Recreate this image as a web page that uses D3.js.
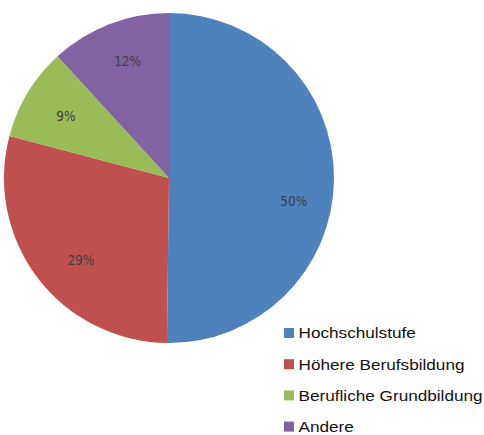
<!DOCTYPE html>
<html><head><meta charset="utf-8">
<script src="https://cdn.jsdelivr.net/npm/d3@7"></script>
<style>body{margin:0;background:#fff}</style></head>
<body><svg id="c" width="484" height="435"></svg>
<script>
const categories = ["Hochschulstufe","Höhere Berufsbildung","Berufliche Grundbildung","Andere"];
const values = [50.2, 28.9, 9.1, 11.8];
const labels = ["50%","29%","9%","12%"];
const colors = ["#4F81BD","#C0504D","#9BBB59","#8064A2"];

const svg = d3.select("#c");
const cx = 169, cy = 178, r = 165;
const pie = d3.pie().sort(null).value(d=>d)(values);
const arc = d3.arc().innerRadius(0).outerRadius(r);
// label placement: radius factor and angular nudge (radians) per slice
const labelRad = [0.77, 0.73, 0.73, 0.75];
const labelRot = [0.18, -0.1, 0, 0.03];
const g = svg.append("g").attr("transform",`translate(${cx},${cy})`);
g.selectAll("path").data(pie).enter().append("path")
  .attr("d",arc).attr("fill",(d,i)=>colors[i]);
g.selectAll("text").data(pie).enter().append("text")
  .attr("transform",(d,i)=>{
    const a=(d.startAngle+d.endAngle)/2+labelRot[i], rr=r*labelRad[i];
    return `translate(${rr*Math.sin(a)},${-rr*Math.cos(a)})`;})
  .attr("text-anchor","middle").attr("dy","0.36em")
  .attr("font-family","'DejaVu Sans Condensed','Liberation Sans Narrow',sans-serif")
  .attr("font-size",13.5).attr("fill","#404040")
  .text((d,i)=>labels[i]);

const lg = svg.append("g");
categories.forEach((c,i)=>{
  const base = 338.3 + i*31.2;
  lg.append("rect").attr("x",284).attr("y",base-10.3).attr("width",10).attr("height",10).attr("fill",colors[i]);
  lg.append("text").attr("transform",`translate(298.5,${base}) scale(1.145,1)`)
    .attr("font-family","'Liberation Sans',Arial,sans-serif").attr("font-size",15).attr("fill","#111").text(c);
});
</script></body></html>
